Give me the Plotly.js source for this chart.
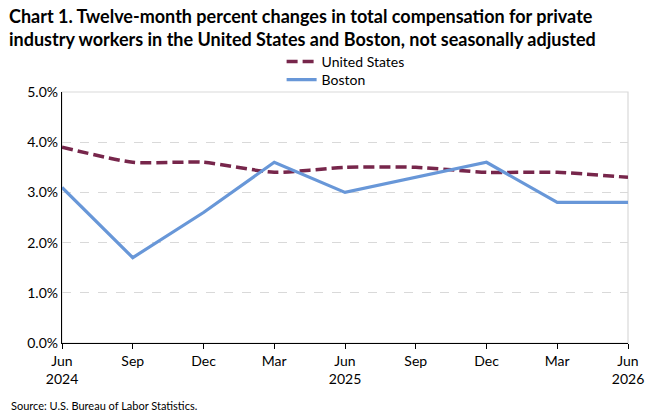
<!DOCTYPE html>
<html>
<head>
<meta charset="utf-8">
<script src="https://cdn.plot.ly/plotly-3.0.1.min.js"></script>
<style>html,body{margin:0;padding:0;background:#fff;}</style>
</head>
<body>
<div id="chart" style="width:668px;height:413px;"></div>
<script>
const months = ["Jun", "Sep", "Dec", "Mar", "Jun", "Sep", "Dec", "Mar", "Jun"];
const tickLabels = ["Jun<br>2024", "Sep", "Dec", "Mar", "Jun<br>2025", "Sep", "Dec", "Mar", "Jun<br>2026"];
const unitedStates = [3.9, 3.6, 3.6, 3.4, 3.5, 3.5, 3.4, 3.4, 3.3];
const boston = [3.1, 1.7, 2.6, 3.6, 3.0, 3.3, 3.6, 2.8, 2.8];
const yTicks = [0, 1, 2, 3, 4, 5];
const yTickLabels = ["0.0%", "1.0%", "2.0%", "3.0%", "4.0%", "5.0%"];

const xIdx = months.map((m, i) => i);
const font = "Lato, 'Open Sans', sans-serif";

const traces = [
  {
    x: xIdx, y: unitedStates, name: "United States", type: "scatter", mode: "lines",
    line: {color: "#77264b", width: 3.5, dash: "11px,5px", shape: "spline", smoothing: 0.6},
    legend: "legend"
  },
  {
    x: xIdx, y: boston, name: "Boston", type: "scatter", mode: "lines",
    line: {color: "#6897d8", width: 3.2},
    legend: "legend2"
  }
];

const legendBase = {
  orientation: "v", xref: "paper", xanchor: "left", yanchor: "middle",
  font: {family: font, size: 14, color: "#000"}, itemwidth: 30,
  bgcolor: "rgba(0,0,0,0)"
};

const layout = {
  width: 668, height: 413,
  margin: {l: 62, r: 40, t: 92, b: 70},
  paper_bgcolor: "#fff", plot_bgcolor: "#fff",
  font: {family: font, size: 14, color: "#000"},
  showlegend: true,
  legend: Object.assign({}, legendBase, {x: 0.388, y: 1.1195}),
  legend2: Object.assign({}, legendBase, {x: 0.388, y: 1.048}),
  xaxis: {
    range: [0, 8], tickvals: xIdx, ticktext: tickLabels,
    showgrid: false, zeroline: false,
    showline: true, linecolor: "#000", linewidth: 1.2,
    ticks: "outside", ticklen: 5, tickcolor: "#000", tickwidth: 1,
    tickfont: {family: font, size: 14, color: "#000"}, fixedrange: true
  },
  yaxis: {
    range: [0, 5], tickvals: yTicks, ticktext: yTickLabels,
    showgrid: true, gridcolor: "#d9d9d9", griddash: "dash", gridwidth: 1,
    zeroline: false, showline: true, linecolor: "#000", linewidth: 1.2,
    ticks: "", tickfont: {family: font, size: 14, color: "#000"}, fixedrange: true
  },
  shapes: [
    {type: "rect", xref: "paper", yref: "paper", x0: 0, x1: 1, y0: 0, y1: 1,
     line: {color: "#d9d9d9", width: 1.2}, layer: "below"}
  ],
  annotations: [
    {text: "<b>Chart 1. Twelve-month percent changes in total compensation for private<br>industry workers in the United States and Boston, not seasonally adjusted</b>",
     xref: "paper", yref: "paper", x: -0.098, xanchor: "left", y: 1.355, yanchor: "top",
     align: "left", showarrow: false,
     font: {family: font, size: 18, color: "#000"}},
    {text: "Source: U.S. Bureau of Labor Statistics.", xref: "paper", yref: "paper",
     x: -0.093, xanchor: "left", y: -0.25, yanchor: "middle", showarrow: false,
     font: {family: font, size: 11, color: "#000"}}
  ]
};

Plotly.newPlot("chart", traces, layout, {staticPlot: true, displayModeBar: false});
</script>
</body>
</html>
